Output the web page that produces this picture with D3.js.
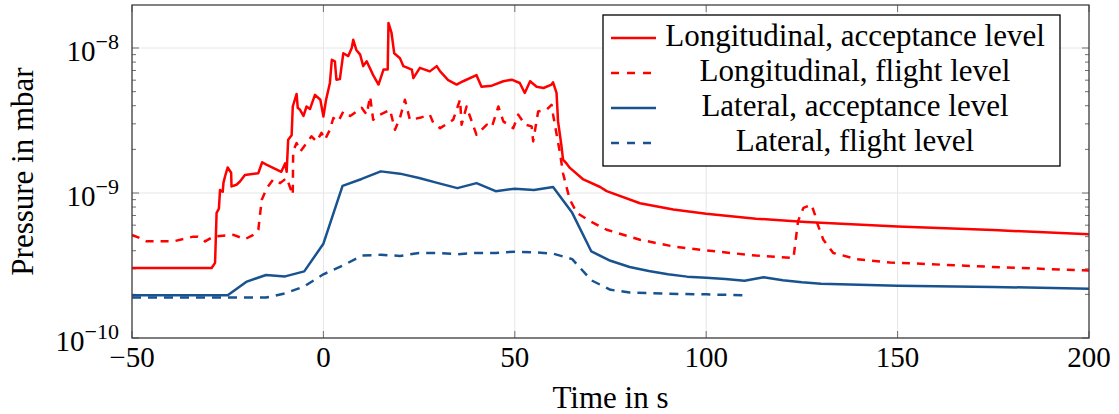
<!DOCTYPE html>
<html>
<head>
<meta charset="utf-8">
<script src="https://cdn.jsdelivr.net/npm/d3@7"></script>
<style>
  body { margin: 0; background: #fff; }
</style>
</head>
<body>
<svg id="chart"></svg>
<script>
// ---- data (time in s, pressure in mbar) ----
const longAccT = [-50, -29.2, -28.3, -27.9, -27.3, -27, -26.3, -26.1, -25.7, -25, -24.1, -24, -22.7, -21.8, -20.5, -17, -16, -14.9, -12.2, -11, -10, -9.6, -9.2, -8.3, -8, -7, -6.7, -6.1, -5.2, -4.4, -3.5, -2.2, -0.8, 0, 0.7, 1.7, 2.2, 3, 3.4, 4.3, 5.2, 6.5, 7.4, 7.8, 8.6, 9.6, 10.4, 11.3, 13, 14.4, 15.7, 16.8, 17, 17.8, 18.5, 20, 20.9, 23.1, 23.5, 25.2, 27.8, 29.6, 30.5, 32.6, 34.8, 36.5, 40, 41.3, 44, 47, 49.2, 51.3, 52.6, 54, 55.7, 57.5, 59.6, 60, 60.9, 61.3, 62.2, 62.6, 63.5, 64.4, 67.9, 72.3, 74, 82.7, 91.4, 100, 113, 126, 150, 175, 200];
const longAccP = [3.04e-10, 3.04e-10, 3.3e-10, 7.3e-10, 7.8e-10, 1.05e-9, 1.02e-9, 1.18e-9, 1.3e-9, 1.5e-9, 1.38e-9, 1.11e-9, 1.14e-9, 1.2e-9, 1.33e-9, 1.37e-9, 1.63e-9, 1.57e-9, 1.45e-9, 1.4e-9, 1.6e-9, 1.4e-9, 2.33e-9, 2.5e-9, 3.95e-9, 4.82e-9, 3.87e-9, 3.75e-9, 3.4e-9, 3.95e-9, 3.8e-9, 4.75e-9, 4.4e-9, 3.37e-9, 4.4e-9, 5.74e-9, 8.3e-9, 8.1e-9, 6.04e-9, 6.1e-9, 9.2e-9, 8.8e-9, 1.0e-8, 1.14e-8, 9.7e-9, 9e-9, 7.5e-9, 8.1e-9, 6.5e-9, 5.6e-9, 7.1e-9, 7.1e-9, 1.49e-8, 1.27e-8, 9.2e-9, 8.5e-9, 7.5e-9, 7.1e-9, 6.2e-9, 7.3e-9, 6.9e-9, 7.5e-9, 6.9e-9, 6.0e-9, 5.6e-9, 5.9e-9, 6.5e-9, 5.4e-9, 5.5e-9, 5.9e-9, 6.05e-9, 5.74e-9, 4.9e-9, 5.9e-9, 5.4e-9, 5.3e-9, 5.6e-9, 5.8e-9, 4.9e-9, 3.12e-9, 2.1e-9, 1.7e-9, 1.6e-9, 1.49e-9, 1.24e-9, 1.1e-9, 1.03e-9, 8.5e-10, 7.7e-10, 7.2e-10, 6.65e-10, 6.3e-10, 5.87e-10, 5.55e-10, 5.2e-10];

const longFltT = [-50, -48, -46.2, -39.2, -34, -32.8, -30.9, -28.8, -23.5, -20.5, -18.3, -17, -16.1, -14.8, -13.1, -11.3, -9.6, -8, -7.9, -7, -6, -4.4, -3.1, -1.8, -0.5, 0.4, 1.7, 2.6, 3.9, 5.2, 7, 8.7, 10, 11.3, 12.2, 13, 14.8, 17.4, 18.7, 20, 21.3, 22.6, 25.2, 27.8, 28.7, 30.5, 33.9, 35.7, 36.1, 37.4, 38.3, 40, 42.7, 44, 45.7, 47, 49.6, 50.9, 52.7, 54.4, 54.8, 56.1, 58.3, 59.6, 60, 61.8, 62.6, 63.5, 64.4, 66.2, 69.6, 74, 82.7, 91.4, 100, 113, 122.8, 124, 125.4, 127.5, 128.4, 128.8, 130.6, 133.2, 139.3, 148, 175, 200];
const longFltP = [5.15e-10, 4.9e-10, 4.64e-10, 4.64e-10, 5.0e-10, 5.0e-10, 4.64e-10, 5.0e-10, 5.15e-10, 4.8e-10, 5.15e-10, 5.58e-10, 9e-10, 1.08e-9, 1.24e-9, 1.17e-9, 1.27e-9, 9.7e-10, 1.94e-9, 2.21e-9, 1.94e-9, 2.21e-9, 2.46e-9, 2.27e-9, 2.6e-9, 2.33e-9, 2.73e-9, 3.29e-9, 3.12e-9, 3.65e-9, 3.4e-9, 3.65e-9, 3.87e-9, 3.47e-9, 4.64e-9, 3.2e-9, 3.47e-9, 3.75e-9, 2.73e-9, 3.3e-9, 4.4e-9, 3.2e-9, 3.3e-9, 3.47e-9, 3.05e-9, 2.8e-9, 3.2e-9, 4.4e-9, 2.96e-9, 3.95e-9, 3.37e-9, 2.52e-9, 2.96e-9, 2.85e-9, 3.95e-9, 3.12e-9, 2.8e-9, 3.47e-9, 2.96e-9, 2.88e-9, 2.27e-9, 3.65e-9, 3.75e-9, 4.06e-9, 3.47e-9, 1.89e-9, 1.37e-9, 1.1e-9, 9e-10, 7.3e-10, 6.4e-10, 5.58e-10, 4.76e-10, 4.28e-10, 4.02e-10, 3.7e-10, 3.56e-10, 6.4e-10, 7.9e-10, 8.3e-10, 7.1e-10, 6.4e-10, 4.76e-10, 3.86e-10, 3.5e-10, 3.32e-10, 3.09e-10, 2.92e-10];

const latAccT = [-50, -25, -20, -15, -10, -5, 0, 5, 10, 15, 20, 25, 30, 35, 40, 45, 50, 55, 60, 65, 70, 75, 80, 85, 90, 95, 100, 105, 110, 115, 120, 125, 130, 150, 175, 200];
const latAccP = [1.97e-10, 1.97e-10, 2.45e-10, 2.72e-10, 2.66e-10, 2.88e-10, 4.47e-10, 1.12e-9, 1.25e-9, 1.41e-9, 1.36e-9, 1.27e-9, 1.17e-9, 1.08e-9, 1.17e-9, 1.03e-9, 1.07e-9, 1.05e-9, 1.1e-9, 7.3e-10, 3.95e-10, 3.41e-10, 3.09e-10, 2.9e-10, 2.75e-10, 2.65e-10, 2.6e-10, 2.55e-10, 2.48e-10, 2.62e-10, 2.5e-10, 2.42e-10, 2.37e-10, 2.29e-10, 2.25e-10, 2.19e-10];

const latFltT = [-50, -15, -10, -5, 0, 5, 10, 15, 20, 25, 30, 35, 40, 45, 50, 55, 60, 65, 70, 75, 80, 90, 100, 110];
const latFltP = [1.9e-10, 1.9e-10, 2.03e-10, 2.27e-10, 2.75e-10, 3.15e-10, 3.7e-10, 3.75e-10, 3.68e-10, 3.86e-10, 3.86e-10, 3.78e-10, 3.86e-10, 3.86e-10, 3.94e-10, 3.9e-10, 3.82e-10, 3.5e-10, 2.5e-10, 2.15e-10, 2.06e-10, 2.02e-10, 2.0e-10, 1.97e-10];

const seriesNames = ["Longitudinal, acceptance level", "Longitudinal, flight level", "Lateral, acceptance level", "Lateral, flight level"];
const xTicks = [-50, 0, 50, 100, 150, 200];
const yTicks = [1e-10, 1e-9, 1e-8];
const yExponents = ["−10", "−9", "−8"];

// ---- layout ----
const width = 1119, height = 414;
const margin = { left: 132, right: 30, top: 5, bottom: 76 };
const innerW = width - margin.left - margin.right;
const innerH = height - margin.top - margin.bottom;

const RED = "#ff0000";
const BLUE = "#19538f";
const FONT = '"Liberation Serif", "Times New Roman", serif';

const svg = d3.select("#chart").attr("width", width).attr("height", height)
  .attr("font-family", FONT);
const g = svg.append("g").attr("transform", `translate(${margin.left},${margin.top})`);

const x = d3.scaleLinear().domain([-50, 200]).range([0, innerW]);
const y = d3.scaleLog().domain([1e-10, 1.98e-8]).range([innerH, 0]);

// grid
g.selectAll(".vgrid").data(xTicks).enter().append("line")
  .attr("x1", d => x(d)).attr("x2", d => x(d))
  .attr("y1", 0).attr("y2", innerH)
  .attr("stroke", "#e6e6e6").attr("stroke-width", 1);
g.selectAll(".hgrid").data(yTicks).enter().append("line")
  .attr("x1", 0).attr("x2", innerW)
  .attr("y1", d => y(d)).attr("y2", d => y(d))
  .attr("stroke", "#e6e6e6").attr("stroke-width", 1);

// minor log ticks, both sides
const minor = [];
yTicks.forEach(base => {
  for (let k = 2; k <= 9; k++) {
    const v = base * k;
    if (v < y.domain()[1]) minor.push(v);
  }
});
const tickColor = "#6e6e6e";
[0, innerW].forEach(edge => {
  const dir = edge === 0 ? 1 : -1;
  g.selectAll(null).data(minor).enter().append("line")
    .attr("x1", edge).attr("x2", edge + dir * 4)
    .attr("y1", d => y(d)).attr("y2", d => y(d))
    .attr("stroke", tickColor).attr("stroke-width", 1);
  g.selectAll(null).data(yTicks).enter().append("line")
    .attr("x1", edge).attr("x2", edge + dir * 7)
    .attr("y1", d => y(d)).attr("y2", d => y(d))
    .attr("stroke", tickColor).attr("stroke-width", 1);
});
[0, innerH].forEach(edge => {
  const dir = edge === 0 ? 1 : -1;
  g.selectAll(null).data(xTicks).enter().append("line")
    .attr("x1", d => x(d)).attr("x2", d => x(d))
    .attr("y1", edge).attr("y2", edge + dir * 7)
    .attr("stroke", tickColor).attr("stroke-width", 1);
});

// clip
svg.append("defs").append("clipPath").attr("id", "plotclip")
  .append("rect").attr("width", innerW).attr("height", innerH);

const line = d3.line().x(d => x(d[0])).y(d => y(d[1]));
const series = [
  { t: longAccT, p: longAccP, color: RED, dash: null },
  { t: longFltT, p: longFltP, color: RED, dash: "8,7" },
  { t: latAccT, p: latAccP, color: BLUE, dash: null },
  { t: latFltT, p: latFltP, color: BLUE, dash: "9,7" }
];

const plot = g.append("g").attr("clip-path", "url(#plotclip)");
series.slice().reverse().forEach(s => {
  plot.append("path")
    .datum(s.t.map((t, i) => [t, s.p[i]]))
    .attr("d", line)
    .attr("fill", "none")
    .attr("stroke", s.color)
    .attr("stroke-width", 2.5)
    .attr("stroke-linejoin", "round")
    .attr("stroke-dasharray", s.dash);
});

// frame
g.append("rect").attr("width", innerW).attr("height", innerH)
  .attr("fill", "none").attr("stroke", "#404040").attr("stroke-width", 1.3);

// x tick labels
g.selectAll(".xl").data(xTicks).enter().append("text")
  .attr("x", d => x(d)).attr("y", innerH + 29)
  .attr("text-anchor", "middle")
  .style("font-size", "29px")
  .text(d => d3.format("")(d));

// y tick labels 10^n
yTicks.forEach((v, i) => {
  const t = g.append("text")
    .attr("x", -13).attr("y", y(v) + 13)
    .attr("text-anchor", "end")
    .style("font-size", "29px");
  t.append("tspan").text("10");
  t.append("tspan").attr("dy", -12).style("font-size", "22px").text(yExponents[i]);
});

// axis labels
svg.append("text")
  .attr("x", margin.left + innerW / 2).attr("y", 408)
  .attr("text-anchor", "middle")
  .style("font-size", "31px")
  .text("Time in s");
svg.append("text")
  .attr("transform", `translate(33,${margin.top + innerH / 2}) rotate(-90)`)
  .attr("text-anchor", "middle")
  .style("font-size", "31px")
  .text("Pressure in mbar");

// legend
const legend = svg.append("g").attr("transform", "translate(603,15)");
legend.append("rect").attr("width", 457).attr("height", 151)
  .attr("fill", "#fff").attr("stroke", "#000").attr("stroke-width", 1.3);
seriesNames.forEach((name, i) => {
  const cy = 23 + i * 35;
  legend.append("line")
    .attr("x1", 8).attr("x2", 53).attr("y1", cy).attr("y2", cy)
    .attr("stroke", series[i].color).attr("stroke-width", 2.5)
    .attr("stroke-dasharray", series[i].dash ? "8,8" : null);
  legend.append("text")
    .attr("x", 252).attr("y", cy + 8)
    .attr("text-anchor", "middle")
    .style("font-size", "31px")
    .text(name);
});
</script>
</body>
</html>
